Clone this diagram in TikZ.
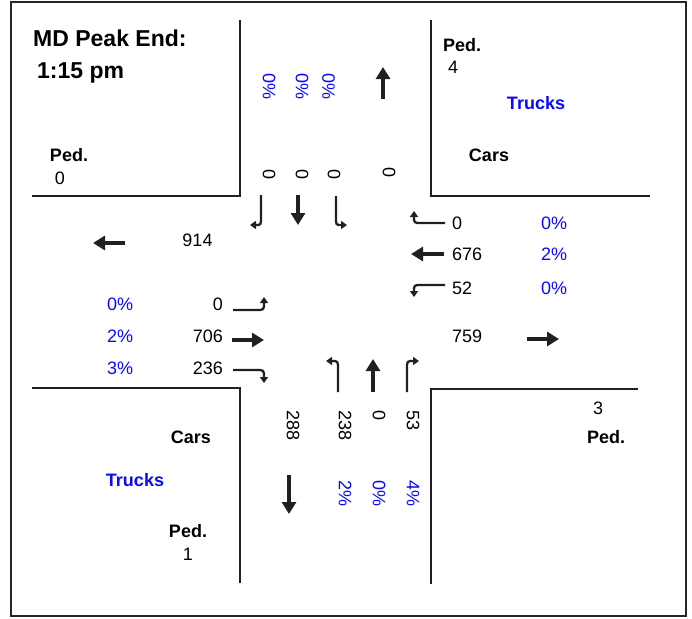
\documentclass[tikz,border=0pt]{standalone}
\usepackage{fontspec}
\setmainfont{Liberation Sans}
\usetikzlibrary{arrows.meta}
\definecolor{pctblue}{RGB}{10,10,245}
\definecolor{ink}{RGB}{35,31,32}
\begin{document}
\begin{tikzpicture}[x=1pt,y=-1pt,
  lbl/.style={font=\fontsize{18}{20}\selectfont, inner sep=0pt},
  bl/.style={font=\fontsize{18}{20}\selectfont\bfseries, inner sep=0pt},
  ttl/.style={font=\fontsize{23}{26}\selectfont\bfseries, inner sep=0pt},
  pct/.style={lbl, text=pctblue},
  vert/.style={rotate=-90},
  curb/.style={line width=2.5pt, draw=ink},
  frame/.style={line width=2.6pt, draw=black!85},
  thru/.style={line width=3.2pt, draw=ink, -{Triangle[length=12pt,width=14pt]}},
  turn/.style={line width=2.3pt, draw=ink, -{Triangle[length=6pt,width=8pt]}},
]
\useasboundingbox (0,0) rectangle (692,618);
\draw[frame] (11,2) rectangle (686,616);

% curb lines of the four corners
\draw[curb] (32,196) -- (240,196) -- (240,20);
\draw[curb] (431,20) -- (431,196) -- (650,196);
\draw[curb] (32,388) -- (240,388) -- (240,583);
\draw[curb] (638,389) -- (431,389) -- (431,584);

% title
\node[ttl, anchor=base west] (title1) at (33,47) {MD Peak End:};
\node[ttl, anchor=base west] (title2) at (37,78) {1:15 pm};

% corner legends
\node[bl] (pedNW) at (69,155) {Ped.};
\node[lbl] (pedNWv) at (60,178) {0};
\node[bl] (pedNE) at (462,45) {Ped.};
\node[lbl] (pedNEv) at (453,67) {4};
\node[bl, text=pctblue] (trkNE) at (536,103) {Trucks};
\node[bl] (carNE) at (489,155) {Cars};
\node[bl] (carSW) at (191,437) {Cars};
\node[bl, text=pctblue] (trkSW) at (135,480) {Trucks};
\node[bl] (pedSW) at (188,531) {Ped.};
\node[lbl] (pedSWv) at (188,554) {1};
\node[lbl] (pedSEv) at (598,408) {3};
\node[bl] (pedSE) at (606,437) {Ped.};

% north approach
\node[pct, vert, anchor=west] (nP1) at (269,73) {0\%};
\node[pct, vert, anchor=west] (nP2) at (302,73) {0\%};
\node[pct, vert, anchor=west] (nP3) at (328.5,73) {0\%};
\node[lbl, vert] (nV1) at (269,175) {0};
\node[lbl, vert] (nV2) at (302,175) {0};
\node[lbl, vert] (nV3) at (334,175) {0};
\node[lbl, vert] (nOut) at (389,173) {0};
\draw[thru] (383,99) -- (383,67);
\draw[turn] (261,195) -- (261,217) .. controls (261,225) .. (250,225);
\draw[thru] (298,195) -- (298,225);
\draw[turn] (336,196) -- (336,217) .. controls (336,225) .. (347,225);

% east approach
\node[lbl, anchor=west] (eV1) at (452,223) {0};
\node[lbl, anchor=west] (eV2) at (452,254) {676};
\node[lbl, anchor=west] (eV3) at (452,288) {52};
\node[pct, anchor=west] (eP1) at (541,223) {0\%};
\node[pct, anchor=west] (eP2) at (541,254) {2\%};
\node[pct, anchor=west] (eP3) at (541,288) {0\%};
\node[lbl, anchor=west] (eOut) at (452,336) {759};
\draw[turn] (445,223) -- (422,223) .. controls (414,223) .. (414,211);
\draw[thru] (444,254) -- (411,254);
\draw[turn] (445,285) -- (422,285) .. controls (414,285) .. (414,297);
\draw[thru] (527,339) -- (559,339);

% west approach
\node[lbl] (wOut) at (197.5,240) {914};
\draw[thru] (125,243) -- (93,243);
\node[pct, anchor=west] (wP1) at (107,304) {0\%};
\node[pct, anchor=west] (wP2) at (107,336) {2\%};
\node[pct, anchor=west] (wP3) at (107,368) {3\%};
\node[lbl, anchor=east] (wV1) at (223,304) {0};
\node[lbl, anchor=east] (wV2) at (223,336) {706};
\node[lbl, anchor=east] (wV3) at (223,368) {236};
\draw[turn] (233,310) -- (256,310) .. controls (264,310) .. (264,297);
\draw[thru] (232,340) -- (264,340);
\draw[turn] (233,370) -- (256,370) .. controls (264,370) .. (264,383);

% south approach
\draw[turn] (338,392) -- (338,369) .. controls (338,361) .. (326,361);
\draw[thru] (373,392) -- (373,359);
\draw[turn] (407,392) -- (407,369) .. controls (407,361) .. (419,361);
\node[lbl, vert, anchor=west] (sOut) at (293,410) {288};
\node[lbl, vert, anchor=west] (sV1) at (345,410) {238};
\node[lbl, vert, anchor=west] (sV2) at (379,410) {0};
\node[lbl, vert, anchor=west] (sV3) at (413,410) {53};
\node[pct, vert, anchor=west] (sP1) at (345,480) {2\%};
\node[pct, vert, anchor=west] (sP2) at (379,480) {0\%};
\node[pct, vert, anchor=west] (sP3) at (413,480) {4\%};
\draw[thru] (289,475) -- (289,514);
\end{tikzpicture}
\end{document}
